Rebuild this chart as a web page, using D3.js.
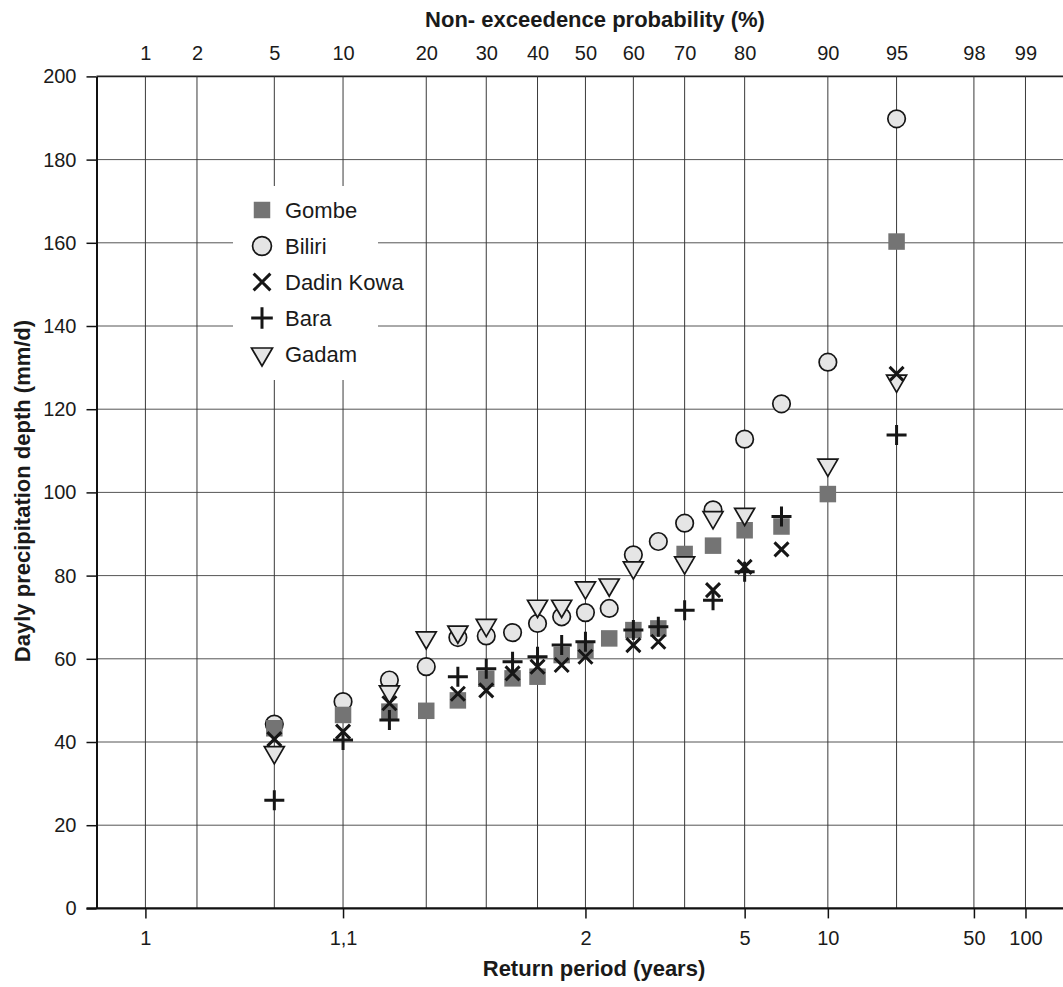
<!DOCTYPE html>
<html>
<head>
<meta charset="utf-8">
<script src="https://cdn.jsdelivr.net/npm/d3@7"></script>
<style>
  html, body { margin: 0; padding: 0; background: #fff; }
  svg { display: block; font-family: "Liberation Sans", Arial, Helvetica, sans-serif; }
</style>
</head>
<body>
<svg id="chart" width="1063" height="987"></svg>
<script>
// ---------------- DATA ----------------
// Plotting positions (non-exceedance probability, %) of the 19 ranked values
const plotPositions = [5, 10, 15, 20, 25, 30, 35, 40, 45, 50, 55, 60, 65, 70, 75, 80, 85, 90, 95];

const gombe     = [43.3, 46.5, 47.3, 47.5, 50.0, 55.2, 55.3, 55.7, 60.9, 62.1, 64.9, 66.9, 67.3, 85.2, 87.2, 90.9, 91.8, 99.6, 160.3];
const biliri    = [44.3, 49.7, 54.9, 58.1, 65.1, 65.5, 66.3, 68.5, 70.1, 71.1, 72.1, 85.0, 88.2, 92.6, 95.8, 112.8, 121.3, 131.3, 189.8];
const dadinKowa = [40.7, 42.5, 49.3, null, 51.6, 52.4, 56.5, 58.1, 58.5, 60.5, null, 63.3, 64.1, null, 76.5, 82.1, 86.3, null, 128.5];
const bara      = [26.0, 40.5, 45.3, null, 55.7, 57.6, 59.3, 60.5, 63.3, 64.1, null, 66.9, 67.7, 71.7, 74.1, 80.9, 94.2, null, 113.8];
const gadam     = [37.5, null, 52.1, 65.1, 66.5, 68.1, null, 72.7, 72.7, 77.1, 77.8, 81.9, null, 83.1, 94.0, 94.8, null, 106.6, 126.8];

const topTickProbs = [1, 2, 5, 10, 20, 30, 40, 50, 60, 70, 80, 90, 95, 98, 99];
const returnPeriodProbs  = [1, 10, 50, 80, 90, 98, 99];
const returnPeriodLabels = ["1", "1,1", "2", "5", "10", "50", "100"];
const yTicks = [0, 20, 40, 60, 80, 100, 120, 140, 160, 180, 200];

const legendOrder = ["Gombe", "Biliri", "Dadin Kowa", "Bara", "Gadam"];

// ---------------- HELPERS ----------------
function probit(p) {
  const a=[-3.969683028665376e+01,2.209460984245205e+02,-2.759285104469687e+02,1.383577518672690e+02,-3.066479806614716e+01,2.506628277459239e+00];
  const b=[-5.447609879822406e+01,1.615858368580409e+02,-1.556989798598866e+02,6.680131188771972e+01,-1.328068155288572e+01];
  const c=[-7.784894002430293e-03,-3.223964580411365e-01,-2.400758277161838e+00,-2.549732539343734e+00,4.374664141464968e+00,2.938163982698783e+00];
  const d=[7.784695709041462e-03,3.224671290700398e-01,2.445134137142996e+00,3.754408661907416e+00];
  const pl = 0.02425, ph = 1 - pl;
  if (p < pl) { const q = Math.sqrt(-2*Math.log(p)); return (((((c[0]*q+c[1])*q+c[2])*q+c[3])*q+c[4])*q+c[5])/((((d[0]*q+d[1])*q+d[2])*q+d[3])*q+1); }
  if (p <= ph) { const q = p - 0.5, r = q*q; return (((((a[0]*r+a[1])*r+a[2])*r+a[3])*r+a[4])*r+a[5])*q/(((((b[0]*r+b[1])*r+b[2])*r+b[3])*r+b[4])*r+1); }
  const q = Math.sqrt(-2*Math.log(1-p)); return -(((((c[0]*q+c[1])*q+c[2])*q+c[3])*q+c[4])*q+c[5])/((((d[0]*q+d[1])*q+d[2])*q+d[3])*q+1);
}

const plotLeft = 96.5, plotRight = 1063, plotTop = 76.4, plotBottom = 908.4;

// Normal-probability x scale (in standard normal quantile units)
const pMin = 0.00487, pMax = 0.99421;
const x = d3.scaleLinear().domain([probit(pMin), probit(pMax)]).range([plotLeft, plotRight]);
const xp = pct => x(probit(pct / 100));
const y = d3.scaleLinear().domain([0, 200]).range([plotBottom, plotTop]);

const svg = d3.select("#chart");

// ---------------- GRID ----------------
const grid = svg.append("g");
grid.selectAll("line.h").data(yTicks).join("line")
  .attr("x1", plotLeft).attr("x2", plotRight)
  .attr("y1", d => y(d)).attr("y2", d => y(d))
  .attr("stroke", d => d === 200 ? "#222" : "#555")
  .attr("stroke-width", d => d === 200 ? 1.6 : 1);
grid.selectAll("line.v").data(topTickProbs).join("line")
  .attr("x1", d => xp(d)).attr("x2", d => xp(d))
  .attr("y1", plotTop).attr("y2", plotBottom)
  .attr("stroke", "#3a3a3a").attr("stroke-width", 1);

// ---------------- AXES ----------------
const textColor = "#1a1a1a";

const yAxis = d3.axisLeft(y).tickValues(yTicks).tickSize(10).tickSizeOuter(0).tickPadding(10);
const gy = svg.append("g").attr("transform", `translate(${plotLeft},0)`).call(yAxis);
gy.select(".domain").attr("stroke", "#111").attr("stroke-width", 2);
gy.selectAll(".tick line").attr("stroke", "#111").attr("stroke-width", 1.5);
gy.selectAll(".tick text").attr("font-size", 20).attr("fill", textColor)
  .attr("font-family", "Liberation Sans, Arial, sans-serif");

const xBottom = d3.axisBottom(x)
  .tickValues(returnPeriodProbs.map(p => probit(p / 100)))
  .tickFormat((d, i) => returnPeriodLabels[i])
  .tickSize(10).tickSizeOuter(0).tickPadding(12);
const gb = svg.append("g").attr("transform", `translate(0,${plotBottom})`).call(xBottom);
gb.select(".domain").attr("stroke", "#111").attr("stroke-width", 2.2)
  .attr("d", `M${plotLeft - 10},0H${plotRight}`);
gb.selectAll(".tick line").attr("stroke", "#111").attr("stroke-width", 1.5);
gb.selectAll(".tick text").attr("font-size", 20).attr("fill", textColor)
  .attr("font-family", "Liberation Sans, Arial, sans-serif");

const xTop = d3.axisTop(x)
  .tickValues(topTickProbs.map(p => probit(p / 100)))
  .tickFormat((d, i) => String(topTickProbs[i]))
  .tickSize(0).tickSizeOuter(0).tickPadding(16);
const gt = svg.append("g").attr("transform", `translate(0,${plotTop})`).call(xTop);
gt.select(".domain").remove();
gt.selectAll(".tick text").attr("font-size", 20).attr("fill", textColor)
  .attr("font-family", "Liberation Sans, Arial, sans-serif");

// Titles
svg.append("text").attr("x", 595).attr("y", 27).attr("text-anchor", "middle")
  .attr("font-size", 22).attr("font-weight", "bold").attr("fill", textColor)
  .text("Non- exceedence probability (%)");
svg.append("text").attr("x", 594).attr("y", 976).attr("text-anchor", "middle")
  .attr("font-size", 22).attr("font-weight", "bold").attr("fill", textColor)
  .text("Return period (years)");
svg.append("text").attr("transform", "translate(30,491) rotate(-90)").attr("text-anchor", "middle")
  .attr("font-size", 22).attr("font-weight", "bold").attr("fill", textColor)
  .text("Dayly precipitation depth (mm/d)");

// ---------------- MARKERS ----------------
const markerStyles = {
  "Gombe":      { shape: "square",   size: 16.5, fill: "#747474", stroke: "none", sw: 0 },
  "Biliri":     { shape: "circle",   size: 17.5, fill: "#e5e5e5", stroke: "#161616", sw: 1.7 },
  "Dadin Kowa": { shape: "x",        size: 14,   fill: "none",    stroke: "#161616", sw: 3 },
  "Bara":       { shape: "plus",     size: 20,   fill: "none",    stroke: "#161616", sw: 3 },
  "Gadam":      { shape: "triangle", size: 20,   fill: "#e5e5e5", stroke: "#161616", sw: 1.7 }
};

function shapePath(shape, s) {
  const h = s / 2;
  switch (shape) {
    case "square":   return `M${-h},${-h}H${h}V${h}H${-h}Z`;
    case "circle":   return d3.arc()({innerRadius: 0, outerRadius: h, startAngle: 0, endAngle: 2 * Math.PI});
    case "x":        return `M${-h},${-h}L${h},${h}M${-h},${h}L${h},${-h}`;
    case "plus":     return `M${-h},0H${h}M0,${-h}V${h}`;
    case "triangle": { const th = s * 0.86; return `M${-h},${-th/3}L${h},${-th/3}L0,${2*th/3}Z`; }
  }
}

const seriesDrawOrder = [
  { name: "Biliri", values: biliri },
  { name: "Gombe", values: gombe },
  { name: "Gadam", values: gadam },
  { name: "Dadin Kowa", values: dadinKowa },
  { name: "Bara", values: bara }
];

const marks = svg.append("g");
seriesDrawOrder.forEach(s => {
  const st = markerStyles[s.name];
  const pts = s.values.map((v, i) => ({ p: plotPositions[i], v })).filter(d => d.v !== null);
  marks.append("g").selectAll("path").data(pts).join("path")
    .attr("transform", d => `translate(${xp(d.p)},${y(d.v)})`)
    .attr("d", shapePath(st.shape, st.size))
    .attr("fill", st.fill).attr("stroke", st.stroke).attr("stroke-width", st.sw)
    .attr("stroke-linecap", "butt");
});

// ---------------- LEGEND ----------------
const legend = svg.append("g");
legend.append("rect").attr("x", 233).attr("y", 186).attr("width", 145).attr("height", 194).attr("fill", "#fff");
const legendSizeBoost = { "Gombe": 1.0, "Biliri": 1.08, "Dadin Kowa": 1.2, "Bara": 1.08, "Gadam": 1.05 };
const li = legend.selectAll("g.item").data(legendOrder).join("g")
  .attr("transform", (d, i) => `translate(262,${210 + i * 36})`);
li.append("path")
  .attr("d", d => shapePath(markerStyles[d].shape, markerStyles[d].size * legendSizeBoost[d]))
  .attr("fill", d => markerStyles[d].fill)
  .attr("stroke", d => markerStyles[d].stroke)
  .attr("stroke-width", d => markerStyles[d].sw);
li.append("text").attr("x", 23).attr("dy", "0.36em")
  .attr("font-size", 22).attr("fill", textColor).text(d => d);
</script>
</body>
</html>
